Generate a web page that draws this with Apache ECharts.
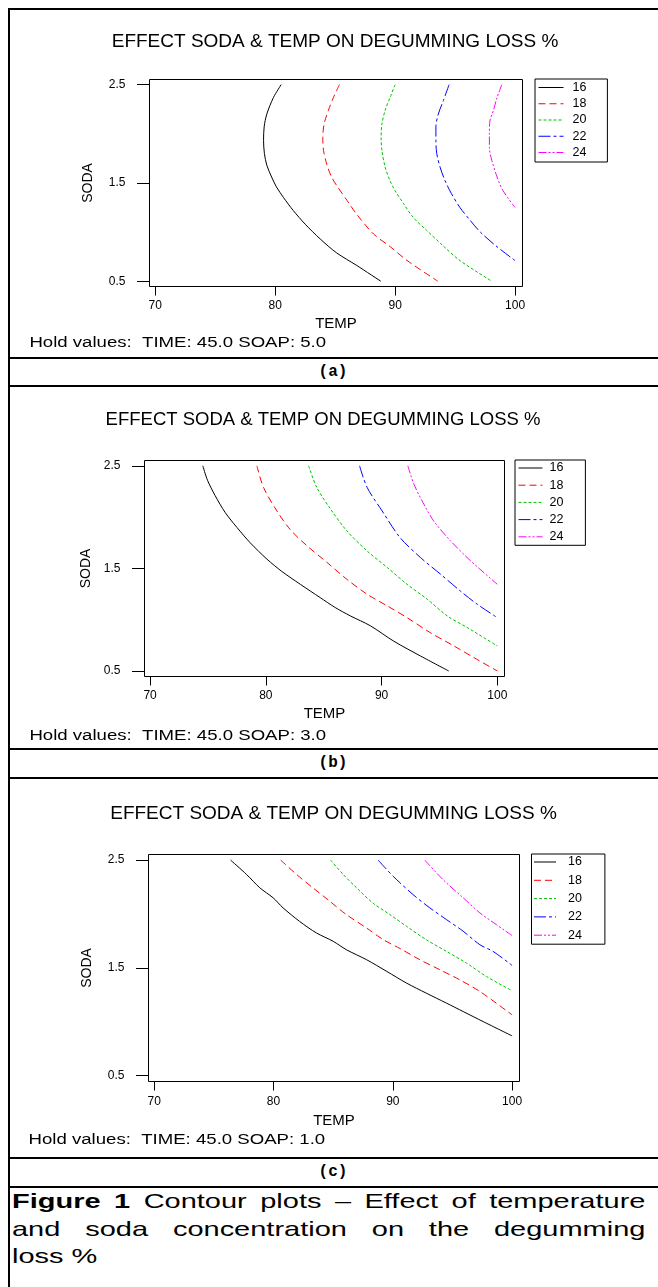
<!DOCTYPE html>
<html>
<head>
<meta charset="utf-8">
<title>Contour plots – degumming loss %</title>
<script src="https://cdn.jsdelivr.net/npm/echarts@6/dist/echarts.min.js"></script>
<style>
  html, body { margin: 0; padding: 0; width: 658px; height: 1287px; overflow: hidden; background: #fff; }
  #page { position: relative; width: 658px; height: 1287px; font-family: "Liberation Sans", Arial, sans-serif; color: #000; }
  .vline { position: absolute; left: 8px; top: 8px; width: 2px; height: 1279px; background: #000; }
  .hline { position: absolute; left: 8px; width: 650px; height: 2px; background: #000; }
  .panel { position: absolute; left: 0; width: 658px; }
  .tag { position: absolute; left: 10px; width: 646px; text-align: center; font: bold 16px "Liberation Mono", "Courier New", monospace; }
  #caption { position: absolute; left: 12px; top: 1187px; width: 459px; font-size: 21px; line-height: 27.5px; transform: scaleX(1.38); transform-origin: 0 0; }
  #caption .just { text-align: justify; text-align-last: justify; }
</style>
</head>
<body>
<div id="page">
  <div class="vline"></div>
  <div class="hline" style="top:8px"></div>
  <div class="hline" style="top:357px"></div>
  <div class="hline" style="top:385px"></div>
  <div class="hline" style="top:748px"></div>
  <div class="hline" style="top:777px"></div>
  <div class="hline" style="top:1157px"></div>
  <div class="hline" style="top:1186px"></div>

  <div id="pa" class="panel" style="top:10px;height:347px"></div>
  <div class="tag" style="top:359px;height:26px;line-height:26px">(a)</div>
  <div id="pb" class="panel" style="top:387px;height:361px"></div>
  <div class="tag" style="top:750px;height:27px;line-height:27px">(b)</div>
  <div id="pc" class="panel" style="top:779px;height:378px"></div>
  <div class="tag" style="top:1159px;height:27px;line-height:27px">(c)</div>

  <div id="caption">
    <div class="just"><b>Figure 1</b> Contour plots – Effect of temperature</div>
    <div class="just">and soda concentration on the degumming</div>
    <div>loss %</div>
  </div>
</div>

<script>
const chartTitle = 'EFFECT SODA & TEMP ON DEGUMMING LOSS %';
const tempTicks = [70, 80, 90, 100];
const sodaTicks = [0.5, 1.5, 2.5];
const levels = ['16', '18', '20', '22', '24'];

// contour lines as [TEMP, SODA]
// (a) hold TIME 45.0, SOAP 5.0
const a16 = [[80.5, 2.5], [79.86, 2.37], [79.3, 2.2], [79.08, 2.07], [79.03, 1.93], [79.1, 1.8], [79.3, 1.68], [79.7, 1.56], [80.1, 1.46], [80.7, 1.35], [81.5, 1.22], [82.5, 1.08], [83.75, 0.93], [85.1, 0.79], [86.8, 0.66], [88.8, 0.5]];
const a18 = [[85.36, 2.5], [84.86, 2.37], [84.44, 2.24], [84.08, 2.1], [83.97, 1.96], [84.03, 1.83], [84.3, 1.69], [84.7, 1.56], [85.2, 1.46], [86.0, 1.32], [86.8, 1.18], [88.2, 0.98], [89.6, 0.85], [91.0, 0.71], [93.56, 0.5]];
const a20 = [[90.0, 2.5], [89.58, 2.37], [89.17, 2.24], [88.9, 2.1], [88.83, 1.96], [88.9, 1.83], [89.17, 1.66], [89.58, 1.52], [90.0, 1.42], [90.7, 1.29], [91.5, 1.15], [92.6, 1.02], [94.0, 0.86], [95.4, 0.71], [98.06, 0.5]];
const a22 = [[94.5, 2.5], [94.03, 2.34], [93.6, 2.2], [93.4, 2.07], [93.4, 1.93], [93.47, 1.8], [93.75, 1.66], [94.17, 1.52], [94.7, 1.39], [95.4, 1.25], [96.25, 1.12], [97.1, 1.0], [98.5, 0.85], [100, 0.71]];
const a24 = [[98.9, 2.5], [98.5, 2.37], [98.2, 2.24], [97.9, 2.13], [97.86, 2.0], [97.86, 1.86], [98.06, 1.73], [98.5, 1.56], [99.0, 1.42], [100, 1.25]];

// (b) hold TIME 45.0, SOAP 3.0
const b16 = [[74.56, 2.5], [74.96, 2.36], [75.62, 2.21], [76.49, 2.045], [77.5, 1.9], [78.65, 1.75], [80.1, 1.59], [81.39, 1.47], [82.98, 1.345], [84.7, 1.215], [86.0, 1.118], [87.3, 1.037], [89.04, 0.94], [91.06, 0.79], [93.36, 0.646], [95.8, 0.5]];
const b18 = [[79.23, 2.5], [79.8, 2.29], [80.96, 2.06], [82.1, 1.88], [83.56, 1.72], [85.3, 1.557], [87.0, 1.394], [88.75, 1.248], [90.5, 1.134], [92.2, 1.02], [94.2, 0.874], [96.25, 0.744], [97.98, 0.63], [100, 0.5]];
const b20 = [[83.7, 2.5], [84.4, 2.29], [85.6, 2.077], [87.0, 1.866], [88.75, 1.67], [90.5, 1.508], [92.2, 1.345], [93.94, 1.2], [95.67, 1.037], [97.4, 0.923], [100, 0.744]];
const b22 = [[88.1, 2.5], [88.75, 2.29], [90.05, 2.06], [91.6, 1.8], [93.36, 1.606], [95.1, 1.443], [96.8, 1.28], [98.27, 1.15], [100, 1.02]];
const b24 = [[92.27, 2.5], [92.8, 2.32], [93.65, 2.126], [94.5, 1.963], [95.96, 1.768], [97.7, 1.573], [100, 1.345]];

// (c) hold TIME 45.0, SOAP 1.0
const c16 = [[76.4, 2.5], [77.74, 2.367], [78.85, 2.243], [79.97, 2.15], [80.8, 2.057], [82.2, 1.93], [83.6, 1.824], [85.0, 1.747], [86.1, 1.669], [87.8, 1.576], [89.5, 1.467], [91.15, 1.359], [92.8, 1.266], [94.5, 1.173], [95.9, 1.095], [97.57, 1.002], [100, 0.869]];
const c18 = [[80.6, 2.5], [81.93, 2.367], [83.3, 2.243], [84.7, 2.12], [86.1, 1.995], [87.8, 1.87], [89.2, 1.762], [90.6, 1.68], [92.26, 1.576], [93.94, 1.483], [95.6, 1.39], [97.3, 1.281], [100, 1.064]];
const c20 = [[84.78, 2.5], [85.84, 2.367], [86.96, 2.243], [88.35, 2.1], [89.75, 1.995], [91.15, 1.886], [92.8, 1.762], [94.5, 1.653], [96.17, 1.545], [97.85, 1.42], [100, 1.288]];
const c22 = [[88.77, 2.5], [90.03, 2.35], [91.7, 2.18], [93.1, 2.057], [94.5, 1.948], [95.9, 1.84], [97.3, 1.715], [98.4, 1.653], [100, 1.523]];
const c24 = [[92.68, 2.5], [94.2, 2.32], [95.9, 2.15], [97.3, 2.01], [98.7, 1.9], [100, 1.8]];

const holdA = 'Hold values:  TIME: 45.0 SOAP: 5.0';
const holdB = 'Hold values:  TIME: 45.0 SOAP: 3.0';
const holdC = 'Hold values:  TIME: 45.0 SOAP: 1.0';

// line look per level (Minitab style)
const lineColors = ['#000000', '#ff0000', '#00c000', '#0000ff', '#ff00ff'];
const lineDash = ['solid', [7, 4], [3, 2], [12, 3, 3, 3], [8, 2, 2, 2, 2, 2]];

const FONT = '"Liberation Sans", Arial, Helvetica, sans-serif';

// layout of each panel, px relative to its container
const panels = [
  {
    el: 'pa', lines: [a16, a18, a20, a22, a24], hold: holdA,
    grid: { left: 149.5, top: 69.5, width: 373, height: 207 },
    title: { x: 335, y: 31.7, size: 19 },
    holdPos: { x: 29.4, y: 332.3 },
    legend: { left: 535, top: 69, iconW: 25, gap: 3.25, pad: [2, 21, 3, 3], textPad: 4 },
    xNameGap: 27.5, yNameGap: 54, xLabelMargin: 13
  },
  {
    el: 'pb', lines: [b16, b18, b20, b22, b24], hold: holdB,
    grid: { left: 144.5, top: 73.5, width: 360, height: 216 },
    title: { x: 323, y: 33, size: 18.5 },
    holdPos: { x: 29.4, y: 348.7 },
    legend: { left: 515, top: 73, iconW: 24, gap: 4.2, pad: [1.5, 22, 2, 3], textPad: 2 },
    xNameGap: 28, yNameGap: 51, xLabelMargin: 13
  },
  {
    el: 'pc', lines: [c16, c18, c20, c22, c24], hold: holdC,
    grid: { left: 148.5, top: 75.5, width: 371, height: 227 },
    title: { x: 333.5, y: 34.3, size: 19 },
    holdPos: { x: 28.5, y: 361 },
    legend: { left: 531.5, top: 75, iconW: 22, gap: 5.3, pad: [1.5, 23, 2.5, 2], textPad: 7 },
    xNameGap: 30.5, yNameGap: 54, xLabelMargin: 14.5
  }
];

const buildOption = (p) => ({
  animation: false,
  title: {
    text: chartTitle,
    left: p.title.x,
    top: p.title.y,
    textAlign: 'center',
    textVerticalAlign: 'middle',
    padding: 0,
    textStyle: { fontSize: p.title.size, fontWeight: 'normal', color: '#000', fontFamily: FONT }
  },
  legend: {
    orient: 'vertical',
    left: p.legend.left,
    top: p.legend.top,
    itemWidth: p.legend.iconW,
    itemHeight: 12,
    itemGap: p.legend.gap,
    padding: p.legend.pad,
    borderColor: '#000',
    borderWidth: 1,
    selectedMode: false,
    itemStyle: { opacity: 0 },
    lineStyle: { width: 1 },
    textStyle: { fontSize: 12.5, lineHeight: 12, color: '#000', fontFamily: FONT, padding: [0, 0, 0, p.legend.textPad] },
    data: levels
  },
  grid: {
    left: p.grid.left,
    top: p.grid.top,
    width: p.grid.width,
    height: p.grid.height,
    show: true,
    borderColor: '#000',
    borderWidth: 1,
    backgroundColor: 'transparent'
  },
  xAxis: {
    type: 'value',
    min: 69.52,
    max: 100.62,
    name: 'TEMP',
    nameLocation: 'middle',
    nameGap: p.xNameGap,
    nameTextStyle: { fontSize: 15, color: '#000', fontFamily: FONT },
    axisLine: { show: false },
    axisTick: { show: true, length: 9, customValues: tempTicks, lineStyle: { color: '#000', width: 1 } },
    axisLabel: { customValues: tempTicks, margin: p.xLabelMargin, fontSize: 12, color: '#000', fontFamily: FONT },
    splitLine: { show: false }
  },
  yAxis: {
    type: 'value',
    min: 0.446,
    max: 2.552,
    name: 'SODA',
    nameLocation: 'middle',
    nameRotate: 90,
    nameGap: p.yNameGap,
    nameTextStyle: { fontSize: 14, color: '#000', fontFamily: FONT },
    axisLine: { show: false },
    axisTick: { show: true, length: 12.5, customValues: sodaTicks, lineStyle: { color: '#000', width: 1 } },
    axisLabel: { customValues: sodaTicks, margin: 24, fontSize: 12, color: '#000', fontFamily: FONT,
      formatter: (v) => v.toFixed(1) },
    splitLine: { show: false }
  },
  graphic: [{
    type: 'text',
    x: p.holdPos.x,
    y: p.holdPos.y,
    scaleX: 1.2,
    silent: true,
    style: { text: p.hold, fontSize: 15.5, fontFamily: FONT, fill: '#000', verticalAlign: 'middle' }
  }],
  series: p.lines.map((pts, i) => ({
    name: levels[i],
    type: 'line',
    data: pts,
    symbol: 'none',
    smooth: 0.3,
    silent: true,
    itemStyle: { color: lineColors[i] },
    lineStyle: { color: lineColors[i], width: 1, type: lineDash[i] }
  }))
});

const charts = panels.map((p) => {
  const chart = echarts.init(document.getElementById(p.el), null, { renderer: 'canvas' });
  chart.setOption(buildOption(p));
  return chart;
});

window.addEventListener('resize', () => charts.forEach((c) => c.resize()));
</script>
</body>
</html>
